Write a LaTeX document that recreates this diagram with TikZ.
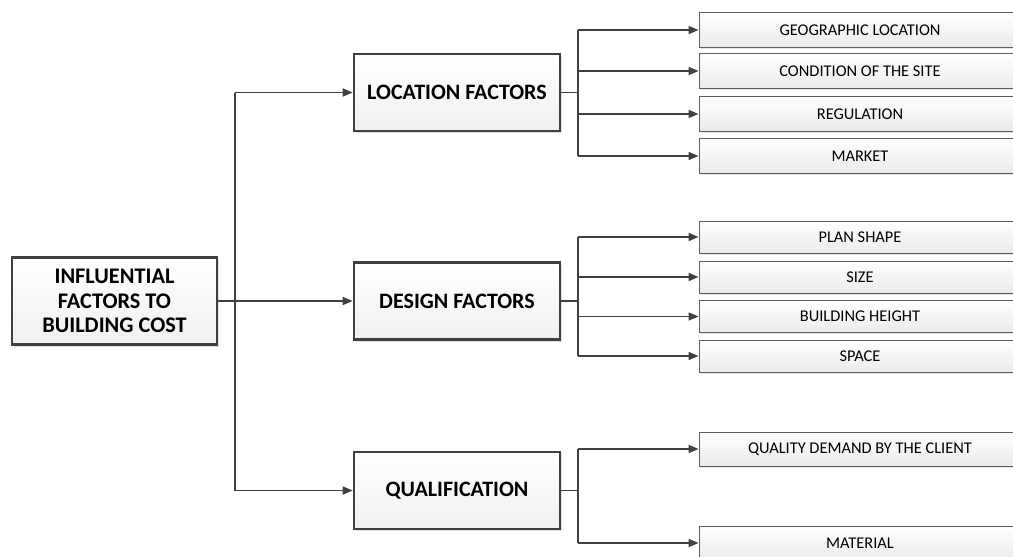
\documentclass[tikz,border=0pt]{standalone}
\usepackage{fontspec}
\setmainfont{Carlito}
\usepackage{tikz}
\usetikzlibrary{arrows.meta,calc,positioning,shadows,shapes}
\definecolor{edge}{HTML}{404040}
\tikzset{%
	root/.style   = {draw=edge, line width=2.6pt, rectangle, minimum width=205pt, minimum height=87pt, inner sep=0pt, align=center, top color=white, bottom color=black!6, drop shadow={shadow xshift=2pt, shadow yshift=-2pt, opacity=.25}, font=\fontsize{22.3}{24.5}\selectfont\bfseries},
	factor/.style = {draw=edge, line width=2.6pt, rectangle, minimum width=206pt, minimum height=77pt, inner sep=0pt, text centered, top color=white, bottom color=black!6, drop shadow={shadow xshift=2pt, shadow yshift=-2pt, opacity=.25}, font=\fontsize{22}{24}\selectfont\bfseries},
	item/.style   = {draw=edge!85, line width=.8pt, rectangle, minimum width=340pt, inner sep=0pt, text centered, top color=white, bottom color=black!8, drop shadow={shadow xshift=1.5pt, shadow yshift=-1.5pt, opacity=.2}, font=\fontsize{16.4}{19}\selectfont},
	line/.style   = {draw=edge, line width=1.6pt},
	arrow/.style  = {line, -{Triangle[length=10pt,width=8pt]}},
}

\begin{document}
\begin{tikzpicture}[x=1pt,y=-1pt]
	\useasboundingbox (0,0) rectangle (1013,557);
	\clip (0,0) rectangle (1013,557);
	% main box and the three factors
	\node[root] (cost) at (114.5,301) {INFLUENTIAL\\FACTORS TO\\BUILDING COST};
	\node[factor] (loc) at (457,92.5) {LOCATION FACTORS};
	\node[factor] (des) at (457,301) {DESIGN FACTORS};
	\node[factor] (qua) at (457,490.5) {QUALIFICATION};
	
	% items (their right ends run past the frame)
	\node[item, minimum height=35pt] (geo) at (869,30) {\hspace*{-18pt}GEOGRAPHIC LOCATION};
	\node[item, minimum height=35pt] (cond) at (869,71) {\hspace*{-18pt}CONDITION OF THE SITE};
	\node[item, minimum height=35pt] (reg) at (869,114) {\hspace*{-18pt}REGULATION};
	\node[item, minimum height=35pt] (mkt) at (869,156) {\hspace*{-18pt}MARKET};
	
	\node[item, minimum height=32pt] (plan) at (869,237) {\hspace*{-18pt}PLAN SHAPE};
	\node[item, minimum height=32pt] (size) at (869,277) {\hspace*{-18pt}SIZE};
	\node[item, minimum height=32pt] (hgt) at (869,316.5) {\hspace*{-18pt}BUILDING HEIGHT};
	\node[item, minimum height=32pt] (space) at (869,356) {\hspace*{-18pt}SPACE};
	
	\node[item, minimum height=34pt] (qdem) at (869,449) {\hspace*{-18pt}QUALITY DEMAND BY THE CLIENT};
	\node[item, minimum height=34pt] (mat) at (869,543) {\hspace*{-18pt}MATERIAL};
	
	% trunk from the main box
	\coordinate (trunk) at (235,301);
	\draw[line] (trunk |- loc) -- (trunk |- qua);
	\draw[arrow] (cost.east) -- (des.west);
	\draw[arrow] (trunk |- loc) -- (loc.west);
	\draw[arrow] (trunk |- qua) -- (qua.west);
	
	% buses on the right
	\coordinate (lbus) at (578,92.5);
	\coordinate (dbus) at (578,301);
	\coordinate (qbus) at (578,490.5);
	\draw[line] (loc.east) -- (lbus);
	\draw[line] (des.east) -- (dbus);
	\draw[line] (qua.east) -- (qbus);
	\draw[line] (lbus |- geo) -- (lbus |- mkt);
	\draw[line] (dbus |- plan) -- (dbus |- space);
	\draw[line] (qbus |- qdem) -- (qbus |- mat);
	\foreach \n in {geo,cond,reg,mkt} \draw[arrow] (lbus |- \n) -- (\n.west);
	\foreach \n in {plan,size,hgt,space} \draw[arrow] (dbus |- \n) -- (\n.west);
	\foreach \n in {qdem,mat} \draw[arrow] (qbus |- \n) -- (\n.west);
\end{tikzpicture}
\end{document}
